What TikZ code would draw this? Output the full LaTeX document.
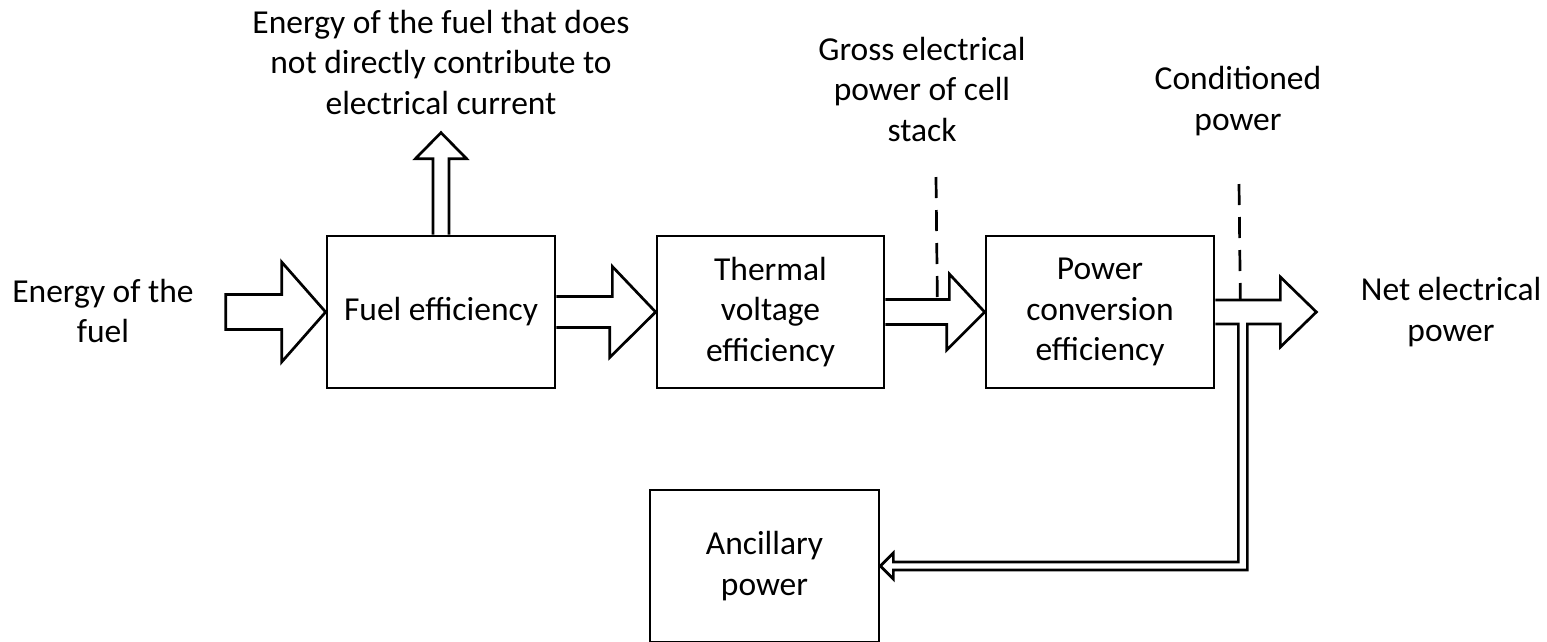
\documentclass[tikz,border=0pt]{standalone}
\usepackage{fontspec}
\setmainfont{Carlito}
\usetikzlibrary{calc}
\begin{document}
\begin{tikzpicture}[x=1pt,y=-1pt,line width=2.7pt,line join=miter,
  txt/.style={font=\fontsize{33.5}{40.5}\selectfont,align=center},
  box/.style={txt,draw,minimum width=228pt,minimum height=152pt,inner sep=0pt},
  lbl/.style={txt,inner sep=0pt},
  dsh/.style={dash pattern=on 21pt off 12pt}]
\useasboundingbox (0,0) rectangle (1547,641);
\clip (0,0) rectangle (1547,641);
% boxes
\node[box] (fuel) at (441,312) {Fuel efficiency};
\node[box,minimum width=227pt] (therm) at (770.5,312) {Thermal\\voltage\\efficiency};
\node[box] (pow) at (1100,312) {Power\\conversion\\efficiency};
\node[box,minimum width=229pt] (anc) at (764.5,566) {Ancillary\\power};
% labels
\node[lbl] (waste) at (441,62) {Energy of the fuel that does\\not directly contribute to\\electrical current};
\node[lbl] (gross) at (922,89) {Gross electrical\\power of cell\\stack};
\node[lbl] (cond) at (1238,101) {Conditioned\\power};
\node[lbl] (net) at (1451,312) {Net electrical\\power};
\node[lbl] (ein) at (103,311) {Energy of the\\fuel};
% input arrow
\draw (fuel.west) -- ++(-44,-50) -- ++(0,32.5) -- ++(-56,0) -- ++(0,35) -- ++(56,0) -- ++(0,32.5) -- cycle;
% fuel -> thermal
\draw ($(fuel.east)+(0,-15.5)$) -- ++(56,0) -- ++(0,-30) -- (therm.west) -- ++(-46,45.5) -- ++(0,-30) -- ($(fuel.east)+(0,15.5)$);
% thermal -> power
\draw ($(therm.east)+(0,-12.5)$) -- ++(64,0) -- ++(0,-25.5) -- (pow.west) -- ++(-38,38) -- ++(0,-25.5) -- ($(therm.east)+(0,12.5)$);
% output arrow with ancillary branch
\coordinate (nettip) at ($(pow.east)+(101,0)$);
\draw ($(pow.east)+(0,-12)$) -- ++(65,0) -- ++(0,-23) -- (nettip) -- ++(-36,35) -- ++(0,-23) -- ++(-33,0) -- ++(0,246)
  -- ($(anc.east)+(13,4)$) -- ++(0,9) -- (anc.east) -- ++(13,-13) -- ++(0,9) -- ++(345,0) -- ++(0,-238) -- ($(pow.east)+(0,12)$);
% up arrow
\coordinate (uptip) at ($(fuel.north)+(0,-102)$);
\draw ($(fuel.north)+(-8,0)$) -- ++(0,-76) -- ++(-17.5,0) -- (uptip) -- ++(25.5,26) -- ++(-17.5,0) -- ++(0,76);
% dashed markers
\coordinate (d1) at (936,177);
\coordinate (d2) at (1239,184);
\draw[dsh] (d1) -- ($(therm.east)+(52,-12.5)$);
\draw[dsh] (d2) -- ($(pow.east)+(25,-12)$);
\end{tikzpicture}
\end{document}
